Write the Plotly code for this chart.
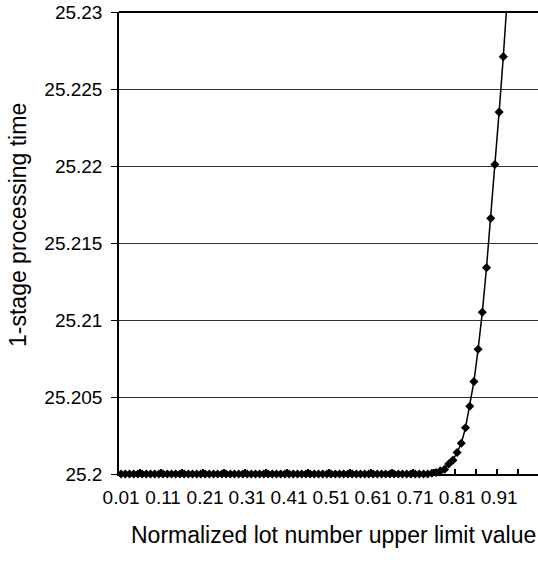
import plotly.graph_objects as go

# Categories: normalized lot number upper limit value (0.01 .. 1.00)
lot_limit = [
    0.01, 0.02, 0.03, 0.04, 0.05, 0.06, 0.07, 0.08, 0.09, 0.10,
    0.11, 0.12, 0.13, 0.14, 0.15, 0.16, 0.17, 0.18, 0.19, 0.20,
    0.21, 0.22, 0.23, 0.24, 0.25, 0.26, 0.27, 0.28, 0.29, 0.30,
    0.31, 0.32, 0.33, 0.34, 0.35, 0.36, 0.37, 0.38, 0.39, 0.40,
    0.41, 0.42, 0.43, 0.44, 0.45, 0.46, 0.47, 0.48, 0.49, 0.50,
    0.51, 0.52, 0.53, 0.54, 0.55, 0.56, 0.57, 0.58, 0.59, 0.60,
    0.61, 0.62, 0.63, 0.64, 0.65, 0.66, 0.67, 0.68, 0.69, 0.70,
    0.71, 0.72, 0.73, 0.74, 0.75, 0.76, 0.77, 0.78, 0.79, 0.80,
    0.81, 0.82, 0.83, 0.84, 0.85, 0.86, 0.87, 0.88, 0.89, 0.90,
    0.91, 0.92, 0.93, 0.94, 0.95, 0.96, 0.97, 0.98, 0.99, 1.00,
]

# 1-stage processing time
processing_time = [
    25.2, 25.2, 25.2, 25.2, 25.2, 25.2, 25.2, 25.2, 25.2, 25.2,
    25.2, 25.2, 25.2, 25.2, 25.2, 25.2, 25.2, 25.2, 25.2, 25.2,
    25.2, 25.2, 25.2, 25.2, 25.2, 25.2, 25.2, 25.2, 25.2, 25.2,
    25.2, 25.2, 25.2, 25.2, 25.2, 25.2, 25.2, 25.2, 25.2, 25.2,
    25.2, 25.2, 25.2, 25.2, 25.2, 25.2, 25.2, 25.2, 25.2, 25.2,
    25.2, 25.2, 25.2, 25.2, 25.2, 25.2, 25.2, 25.2, 25.2, 25.2,
    25.2, 25.2, 25.2, 25.2, 25.2, 25.2, 25.2, 25.2, 25.2, 25.2,
    25.2, 25.2, 25.2, 25.2, 25.20005, 25.2001, 25.2002, 25.2003, 25.20065, 25.2009,
    25.2014, 25.2020, 25.2030, 25.2044, 25.2060, 25.2081, 25.2105, 25.2134, 25.2166, 25.2201,
    25.2235, 25.2271, 25.2308, 25.2346, 25.2385, 25.2425, 25.2466, 25.2508, 25.2551, 25.2595,
]

x_tick_vals = [0.01, 0.11, 0.21, 0.31, 0.41, 0.51, 0.61, 0.71, 0.81, 0.91]
x_tick_text = ["0.01", "0.11", "0.21", "0.31", "0.41", "0.51", "0.61", "0.71", "0.81", "0.91"]
x_tick_marks = [0.055, 0.105, 0.155, 0.205, 0.255, 0.305, 0.355, 0.405, 0.455, 0.505,
                0.555, 0.605, 0.655, 0.705, 0.755, 0.805, 0.855, 0.905, 0.955]

y_tick_vals = [25.2, 25.205, 25.21, 25.215, 25.22, 25.225, 25.23]
y_tick_text = ["25.2", "25.205", "25.21", "25.215", "25.22", "25.225", "25.23"]

FONT = "Liberation Sans, Arial, sans-serif"

fig = go.Figure()
fig.add_trace(go.Scatter(
    x=lot_limit, y=processing_time,
    mode="lines+markers",
    line=dict(color="black", width=1.5),
    marker=dict(symbol="diamond", size=7, color="black"),
    cliponaxis=False,
    showlegend=False,
))

fig.update_layout(
    width=538, height=562,
    margin=dict(l=119, r=0, t=12, b=88),
    paper_bgcolor="white", plot_bgcolor="white",
    font=dict(family=FONT, size=19, color="black"),
    xaxis=dict(
        range=[0.005, 1.0026],
        tickmode="array", tickvals=x_tick_vals, ticktext=x_tick_text,
        ticks="", showgrid=False, zeroline=False,
        showline=True, linecolor="black", linewidth=2,
        tickfont=dict(size=19),
        ticklabelstandoff=5,
        minor=dict(tickmode="array", tickvals=x_tick_marks, ticks="inside",
                   ticklen=5, tickwidth=1.5, tickcolor="black", showgrid=False),
        layer="below traces",
    ),
    yaxis=dict(
        range=[25.2, 25.23],
        tickmode="array", tickvals=y_tick_vals, ticktext=y_tick_text,
        ticks="outside", ticklen=6, tickwidth=1, tickcolor="black",
        showgrid=True, gridcolor="#333333", gridwidth=1,
        zeroline=False,
        showline=True, linecolor="black", linewidth=1.5,
        tickfont=dict(size=19),
        ticklabelstandoff=5,
        layer="below traces",
    ),
    shapes=[dict(type="line", xref="paper", yref="paper", x0=0, x1=1, y0=1, y1=1,
                 line=dict(color="black", width=2))],
    annotations=[
        dict(text="Normalized lot number upper limit value", xref="paper", yref="paper",
             x=(333 - 119) / 419, y=-(535 - 474) / 462, xanchor="center", yanchor="middle",
             showarrow=False, font=dict(size=23)),
        dict(text="1-stage processing time", xref="paper", yref="paper",
             x=(18 - 119) / 419, y=(474 - 225) / 462, xanchor="center", yanchor="middle",
             textangle=-90, showarrow=False, font=dict(size=23)),
    ],
)

fig.write_html("out.html")
